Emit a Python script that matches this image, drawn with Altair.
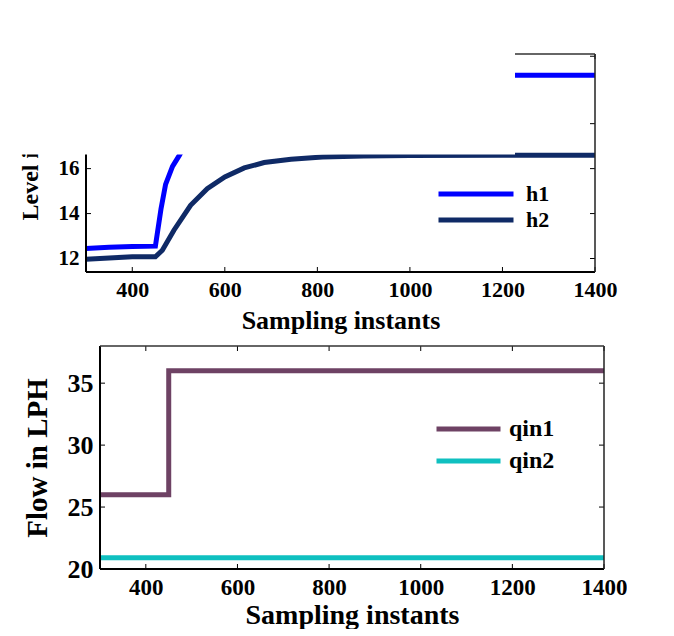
import altair as alt
import pandas as pd

FONT = "Liberation Serif"

# ---------------- data ----------------
h1_x = [300, 350, 400, 450, 462, 472, 487, 502, 520, 550, 600, 650, 700, 800, 900, 1000, 1200, 1400]
h1_y = [12.45, 12.5, 12.53, 12.55, 14.2, 15.3, 16.1, 16.6, 17.3, 18.1, 19.0, 19.5, 19.75, 19.95, 20.05, 20.1, 20.15, 20.15]
h2_x = [300, 400, 450, 465, 490, 526, 562, 600, 642, 685, 743, 811, 900, 1000, 1200, 1400]
h2_y = [11.97, 12.08, 12.08, 12.37, 13.26, 14.37, 15.11, 15.63, 16.03, 16.27, 16.42, 16.52, 16.56, 16.58, 16.6, 16.6]
level_series = ["h1", "h2"]
level_colors = ["#0000ff", "#0f2a66"]

q_x = [300, 450, 1400]
qin1_y = [26, 36, 36]
qin2_y = [20.9, 20.9, 20.9]
flow_series = ["qin1", "qin2"]
flow_colors = ["#6e4264", "#0fc0c0"]

x_ticks = [400, 600, 800, 1000, 1200, 1400]
top_y_labels = [12, 14, 16, 18, 20]
top_y_ticks = [12, 14, 16, 18, 21]
bot_y_ticks = [20, 25, 30, 35]

top_df = pd.concat([
    pd.DataFrame({"x": h1_x, "y": h1_y, "series": level_series[0]}),
    pd.DataFrame({"x": h2_x, "y": h2_y, "series": level_series[1]}),
])
bot_df = pd.concat([
    pd.DataFrame({"x": q_x, "y": qin1_y, "series": flow_series[0]}),
    pd.DataFrame({"x": q_x, "y": qin2_y, "series": flow_series[1]}),
])

TICK = 5
one = pd.DataFrame({"a": [0]})


def panel(df, L, W, H, ydom, ylabel_vals, ytick_vals, xlab_size, ylab_size,
          xtitle_size, ytitle, ytitle_size, ytitle_x, ytitle_kw, xtitle_y,
          series, colors, legend, step):
    # L: left edge of the drawn plot box relative to the view origin (<= 0)
    xsc = alt.Scale(domain=[300, 1400], nice=False, zero=False, range=[L, W])
    ysc = alt.Scale(domain=ydom, nice=False, zero=False)
    xax = alt.Axis(values=x_ticks, format="d", ticks=False, tickSize=0, domain=False, grid=False,
                   labelFont=FONT, labelFontSize=xlab_size, labelFontWeight="bold",
                   labelColor="black", labelPadding=7, labelOverlap=False, labelFlush=False,
                   title="Sampling instants", titleFont=FONT, titleFontSize=xtitle_size,
                   titleFontWeight="bold", titleColor="black", titleY=xtitle_y,
                   titleX=(L + W) / 2, titleBaseline="alphabetic")
    yax = alt.Axis(values=ylabel_vals, format="d", ticks=False, tickSize=0, domain=False, grid=False,
                   labelFont=FONT, labelFontSize=ylab_size, labelFontWeight="bold",
                   labelColor="black", labelPadding=7 - L, labelOverlap=False, labelFlush=False,
                   title=ytitle, titleFont=FONT, titleFontSize=ytitle_size,
                   titleFontWeight="bold", titleColor="black", titleX=ytitle_x,
                   titleBaseline="alphabetic", **ytitle_kw)
    X = lambda: alt.X("x:Q", scale=xsc, axis=xax)
    Y = lambda: alt.Y("y:Q", scale=ysc, axis=yax)

    xt = alt.Chart(pd.DataFrame({"x": x_ticks}))
    yt = alt.Chart(pd.DataFrame({"y": ytick_vals}))
    layers = [
        xt.mark_rule(color="black", strokeWidth=1).encode(x=X(), y=alt.value(H), y2=alt.value(H - TICK)),
        xt.mark_rule(color="black", strokeWidth=1).encode(x=X(), y=alt.value(0), y2=alt.value(TICK)),
        yt.mark_rule(color="black", strokeWidth=1).encode(y=Y(), x=alt.value(L), x2=alt.value(L + TICK)),
        yt.mark_rule(color="black", strokeWidth=1).encode(y=Y(), x=alt.value(W), x2=alt.value(W - TICK)),
    ]
    line = alt.Chart(df).mark_line(strokeWidth=5, interpolate="step-after" if step else "linear").encode(
        x=X(), y=Y(),
        color=alt.Color("series:N", scale=alt.Scale(domain=series, range=colors), legend=legend),
    )
    layers.append(line)
    b = alt.Chart(one)
    layers += [
        b.mark_rule(color="black", strokeWidth=2).encode(x=alt.value(L), y=alt.value(0), y2=alt.value(H)),
        b.mark_rule(color="black", strokeWidth=2).encode(x=alt.value(L), x2=alt.value(W), y=alt.value(H)),
        b.mark_rule(color="#222222", strokeWidth=1.5).encode(x=alt.value(W), y=alt.value(0), y2=alt.value(H)),
        b.mark_rule(color="#333333", strokeWidth=1.5).encode(x=alt.value(L), x2=alt.value(W), y=alt.value(0)),
    ]
    return layers, b


top_legend = alt.Legend(orient="none", legendX=336, legendY=127, title=None, symbolType="stroke",
                        symbolSize=5625, symbolStrokeWidth=5, clipHeight=26, rowPadding=0,
                        labelFont=FONT, labelFontSize=22, labelFontWeight="bold",
                        labelColor="black", labelOffset=10, padding=0)
bot_legend = alt.Legend(orient="none", legendX=334, legendY=67, title=None, symbolType="stroke",
                        symbolSize=4096, symbolStrokeWidth=5, clipHeight=32, rowPadding=0,
                        labelFont=FONT, labelFontSize=24, labelFontWeight="bold",
                        labelColor="black", labelOffset=6, padding=0)

# top panel: plot box spans x = -14 .. 495 relative to the shared origin
TL, TW, TH = -14, 495, 218
top_layers, tb = panel(top_df, TL, TW, TH, [11.4, 21.1], top_y_labels, top_y_ticks,
                       22, 21, 26, "Level in cm", 24, -63, {"titleY": 166, "titleAlign": "left"}, 56,
                       level_series, level_colors, top_legend, False)
# white panel that hides the upper-left part of the level plot, as in the reference figure
top_layers.append(tb.mark_rect(color="white").encode(
    x=alt.value(-92), x2=alt.value(415), y=alt.value(-2), y2=alt.value(100.5)))
top = alt.layer(*top_layers).properties(width=TW, height=TH)

BW, BH = 504, 223
bot_layers, bb = panel(bot_df, 0, BW, BH, [20, 38], bot_y_ticks, bot_y_ticks,
                       23, 26, 28, "Flow in LPH", 29, -54, {}, 54,
                       flow_series, flow_colors, bot_legend, True)
bottom = alt.layer(*bot_layers).properties(width=BW, height=BH)

chart = alt.vconcat(top, bottom, spacing=12).resolve_scale(
    color="independent"
).properties(
    padding={"left": 0, "top": 44, "right": 0, "bottom": 0},
    background="white",
).configure_view(stroke=None, strokeWidth=0).configure_axis(domain=False, grid=False)

chart.save("out.html", embed_options={"renderer": "svg", "actions": False})
